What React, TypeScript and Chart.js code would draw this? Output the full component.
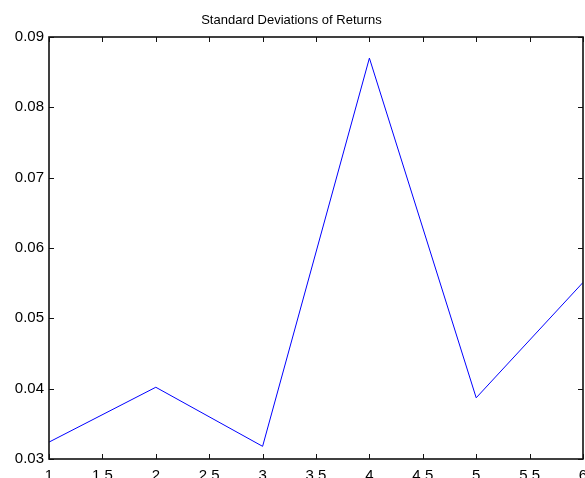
import React, { useEffect, useRef } from "react";
import { Chart, registerables } from "chart.js";

Chart.register(...registerables);

// Period index (x) and standard deviation of returns (y)
const periods = [1, 2, 3, 4, 5, 6];
const stdDevs = [0.0324, 0.0402, 0.0318, 0.087, 0.0387, 0.0551];

const xTicks = [1, 1.5, 2, 2.5, 3, 3.5, 4, 4.5, 5, 5.5, 6];
const yTicks = [0.03, 0.04, 0.05, 0.06, 0.07, 0.08, 0.09];

const chartTitle = "Standard Deviations of Returns";

const FONT = "'Liberation Sans', Arial, Helvetica, sans-serif";

// Boxed frame with inward-pointing tick marks on all four sides
const boxAxesPlugin = {
  id: "boxAxes",
  afterDatasetsDraw(chart: any) {
    const { ctx, chartArea, scales } = chart;
    const { left, right, top, bottom } = chartArea;
    const len = 5;
    ctx.save();
    ctx.strokeStyle = "#111";
    ctx.lineWidth = 1;
    ctx.beginPath();
    for (const v of xTicks) {
      const x = Math.round(scales.x.getPixelForValue(v)) + 0.5;
      ctx.moveTo(x, bottom);
      ctx.lineTo(x, bottom - len);
      ctx.moveTo(x, top);
      ctx.lineTo(x, top + len);
    }
    for (const v of yTicks) {
      const y = Math.round(scales.y.getPixelForValue(v)) + 0.5;
      ctx.moveTo(left, y);
      ctx.lineTo(left + len, y);
      ctx.moveTo(right, y);
      ctx.lineTo(right - len, y);
    }
    ctx.stroke();
    ctx.lineWidth = 1.6;
    ctx.strokeRect(left, top, right - left, bottom - top);
    ctx.restore();
  },
};

export default function App() {
  const canvasRef = useRef<HTMLCanvasElement | null>(null);

  useEffect(() => {
    const canvas = canvasRef.current;
    if (!canvas) return;
    const chart = new Chart(canvas, {
      type: "line",
      data: {
        datasets: [
          {
            data: periods.map((p, i) => ({ x: p, y: stdDevs[i] })),
            borderColor: "#0000ff",
            borderWidth: 1,
            pointRadius: 0,
            fill: false,
            tension: 0,
          },
        ],
      },
      options: {
        responsive: false,
        animation: false,
        layout: { padding: { right: 2, left: 0, top: 0, bottom: 0 } },
        plugins: {
          legend: { display: false },
          tooltip: { enabled: false },
          title: {
            display: true,
            text: chartTitle,
            color: "#000",
            font: { family: FONT, size: 13, weight: "normal" },
            padding: { top: 12.5, bottom: 8.9 },
          },
        },
        scales: {
          x: {
            type: "linear",
            min: 1,
            max: 6,
            afterBuildTicks: (s: any) => {
              s.ticks = xTicks.map((v) => ({ value: v }));
            },
            afterFit: (s: any) => {
              s.height = 19;
              s.paddingLeft = 0;
              s.paddingRight = 0;
            },
            grid: { display: false, drawTicks: false },
            border: { display: false },
            ticks: {
              color: "#000",
              font: { family: FONT, size: 15 },
              padding: 8,
              maxRotation: 0,
              autoSkip: false,
              callback: (v: any) => String(Math.round(Number(v) * 10) / 10),
            },
          },
          y: {
            type: "linear",
            min: 0.03,
            max: 0.09,
            afterBuildTicks: (s: any) => {
              s.ticks = yTicks.map((v) => ({ value: v }));
            },
            afterFit: (s: any) => {
              s.width = 49;
              s.paddingTop = 0;
              s.paddingBottom = 0;
            },
            grid: { display: false, drawTicks: false },
            border: { display: false },
            ticks: {
              color: "#000",
              font: { family: FONT, size: 15 },
              padding: 5,
              callback: (v: any) => Number(v).toFixed(2),
            },
          },
        },
      },
      plugins: [boxAxesPlugin],
    });
    return () => chart.destroy();
  }, []);

  return (
    <div style={{ position: "absolute", left: 0, top: 0, width: 585, height: 478, background: "#fff" }}>
      <canvas ref={canvasRef} width={585} height={478} style={{ width: 585, height: 478, display: "block" }} />
    </div>
  );
}
